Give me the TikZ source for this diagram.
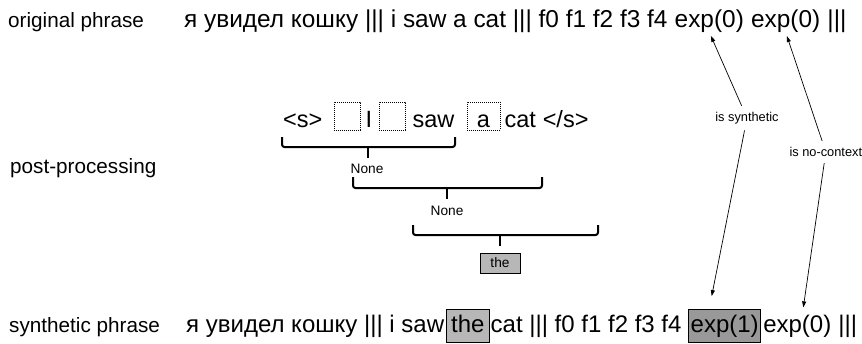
\documentclass[tikz,border=0pt]{standalone}
\usepackage{fontspec}
\setmainfont{Liberation Sans}
\usetikzlibrary{positioning,arrows.meta}
\definecolor{boxgray}{HTML}{B7B7B7}
\definecolor{expgray}{HTML}{999999}
\tikzset{
  row/.style={font=\fontsize{24.4}{28}\selectfont, inner sep=0pt},
  lowrow/.style={font=\fontsize{24}{28}\selectfont, inner sep=0pt},
  midrow/.style={font=\fontsize{23.5}{27}\selectfont, inner sep=0pt},
  side/.style={font=\fontsize{20.7}{24}\selectfont, inner sep=0pt, anchor=base west},
  note/.style={font=\fontsize{12.8}{15}\selectfont},
  slot/.style={draw, dash pattern=on 0.8pt off 1.2pt, line width=0.7pt, minimum width=26pt,
    text height=22pt, text depth=0pt, inner ysep=3pt, inner xsep=0pt},
  brace/.style={line width=2pt, rounded corners=2.5pt},
  hit/.style={draw, line width=0.8pt, fill=boxgray, text height=18pt, text depth=5.5pt,
    inner ysep=4.5pt, inner xsep=5pt},
  link/.style={-{Triangle[length=6pt,width=4pt]}, line width=0.7pt}
}
\begin{document}
\begin{tikzpicture}[x=1pt,y=-1pt]
\useasboundingbox (0,0) rectangle (862,343);
% row labels
\node[side] (orig) at (8,27) {original phrase};
\node[side] (post) at (10,173) {post-processing};
\node[side] (synth) at (9,332) {synthetic phrase};
% original phrase
\node[row, anchor=base west] (o1) at (184,27) {я увидел кошку ||| i saw a cat ||| f0 f1 f2 f3 f4};
\node[row, base right=6.8pt of o1] (o2) {exp(0)};
\node[row, base right=6.8pt of o2] (o3) {exp(0)};
\node[row, base right=6.8pt of o3] (o4) {|||};
% sentence with slots
\node[midrow, anchor=base west] (m1) at (283,127) {<s>};
\node[midrow, slot, base right=11pt of m1] (m2) {};
\node[midrow, base right=5pt of m2] (m3) {I};
\node[midrow, slot, base right=6.5pt of m3] (m4) {};
\node[midrow, base right=7pt of m4] (m5) {saw};
\node[midrow, slot, minimum width=33pt, base right=12pt of m5] (m6) {a};
\node[midrow, base right=4pt of m6] (m7) {cat};
\node[midrow, base right=6.5pt of m7] (m8) {</s>};
% brackets
\draw[brace] (282,137) |- (368,147) -| (455,137);
\draw[brace] (368,147) -- (368,158);
\node[note, font=\fontsize{13.7}{16}\selectfont] (n1) at (367,169) {None};
\draw[brace] (353,177) |- (447,188) -| (542,177);
\draw[brace] (447,188) -- (447,199);
\node[note, font=\fontsize{13.7}{16}\selectfont] (n2) at (447,211) {None};
\draw[brace] (413,225) |- (500,235) -| (598,225);
\draw[brace] (500,235) -- (500,246);
\node[note, font=\fontsize{13.7}{16}\selectfont, draw, line width=0.8pt, fill=boxgray,
  minimum width=40pt, minimum height=20pt, inner sep=0pt] (pick) at (500,263) {the};
% synthetic phrase
\node[lowrow, anchor=base west] (s1) at (186,332) {я увидел кошку ||| i saw};
\node[lowrow, hit, base right=1.5pt of s1] (s2) {the};
\node[lowrow, base right=0.5pt of s2] (s3) {cat ||| f0 f1 f2 f3 f4};
\node[lowrow, hit, fill=expgray, inner xsep=2pt, base right=6.6pt of s3] (s4) {exp(1)};
\node[lowrow, base right=2pt of s4] (s5) {exp(0)};
\node[lowrow, base right=6.6pt of s5] (s6) {|||};
% feature notes
\node[note] (syn) at (747,118) {is synthetic};
\node[note, anchor=west] (nc) at (786,152) {is no-context};
\draw[link, shorten <=3pt, shorten >=4pt] (syn) -- (o2.south);
\draw[link, shorten <=3pt] (syn) -- ([xshift=-13pt,yshift=13pt]s4.north);
\draw[link, shorten <=3pt, shorten >=4pt] (nc) -- (o3.south);
\draw[link, shorten <=3pt] (nc) -- ([xshift=6pt,yshift=7pt]s5.north);
\end{tikzpicture}
\end{document}
